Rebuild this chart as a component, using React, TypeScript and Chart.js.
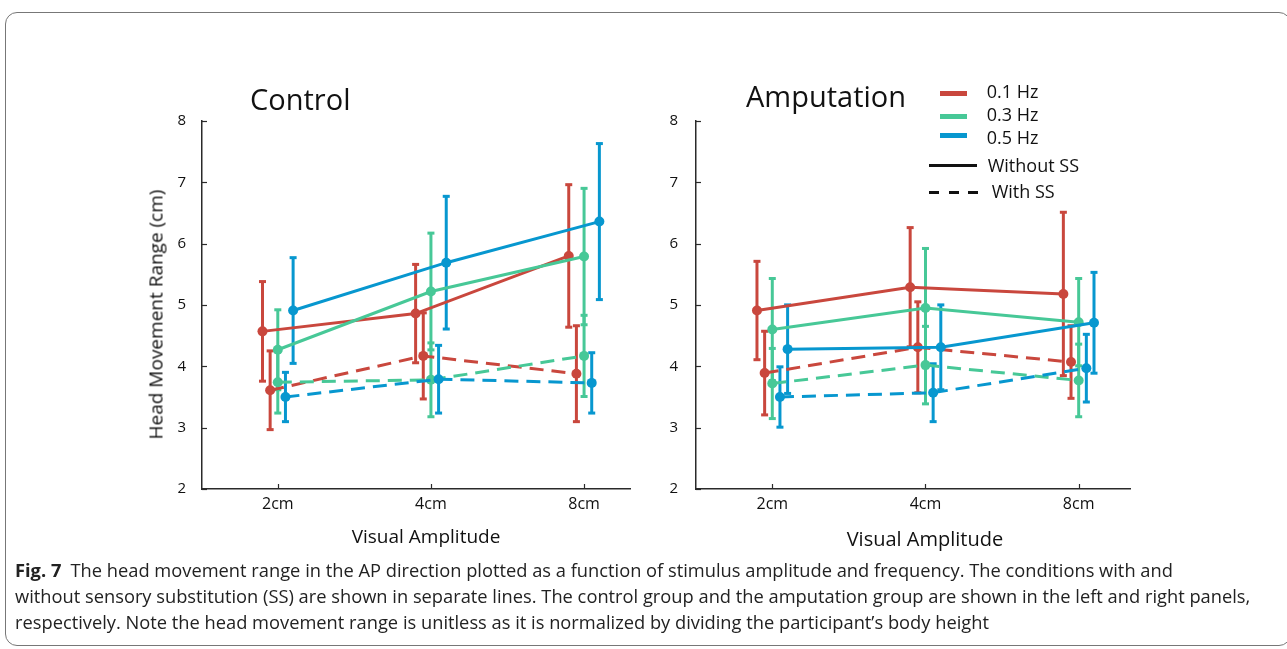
import React, { useEffect, useRef } from "react";
import { Chart, registerables } from "chart.js";

Chart.register(...registerables);

// ---------- data ----------
const CATEGORIES = ["2cm", "4cm", "8cm"];
const Y_TICKS = [2, 3, 4, 5, 6, 7, 8];
const FREQ_LABELS = ["0.1 Hz", "0.3 Hz", "0.5 Hz"];
const CONDITION_LABELS = ["Without SS", "With SS"];

// Control group: means and symmetric error half-widths
const control_01Hz_withoutSS = [4.57, 4.86, 5.8];
const control_01Hz_withoutSS_err = [0.82, 0.81, 1.17];
const control_01Hz_withSS = [3.61, 4.17, 3.88];
const control_01Hz_withSS_err = [0.65, 0.71, 0.79];
const control_03Hz_withoutSS = [4.27, 5.22, 5.79];
const control_03Hz_withoutSS_err = [0.66, 0.96, 1.12];
const control_03Hz_withSS = [3.74, 3.78, 4.17];
const control_03Hz_withSS_err = [0.51, 0.61, 0.67];
const control_05Hz_withoutSS = [4.91, 5.69, 6.36];
const control_05Hz_withoutSS_err = [0.87, 1.09, 1.28];
const control_05Hz_withSS = [3.5, 3.79, 3.73];
const control_05Hz_withSS_err = [0.41, 0.56, 0.5];

// Amputation group
const amp_01Hz_withoutSS = [4.91, 5.29, 5.18];
const amp_01Hz_withoutSS_err = [0.81, 0.98, 1.34];
const amp_01Hz_withSS = [3.89, 4.31, 4.07];
const amp_01Hz_withSS_err = [0.69, 0.75, 0.6];
const amp_03Hz_withoutSS = [4.6, 4.95, 4.72];
const amp_03Hz_withoutSS_err = [0.84, 0.98, 0.72];
const amp_03Hz_withSS = [3.72, 4.02, 3.77];
const amp_03Hz_withSS_err = [0.58, 0.64, 0.6];
const amp_05Hz_withoutSS = [4.28, 4.31, 4.71];
const amp_05Hz_withoutSS_err = [0.73, 0.7, 0.83];
const amp_05Hz_withSS = [3.5, 3.57, 3.97];
const amp_05Hz_withSS_err = [0.5, 0.48, 0.56];

const CAPTION_BOLD = "Fig. 7";
const CAPTION_LINES = [
  "The head movement range in the AP direction plotted as a function of stimulus amplitude and frequency. The conditions with and",
  "without sensory substitution (SS) are shown in separate lines. The control group and the amputation group are shown in the left and right panels,",
  "respectively. Note the head movement range is unitless as it is normalized by dividing the participant\u2019s body height",
];

// ---------- styles ----------
const COLORS = ["#c9473d", "#47c897", "#0797cf"];
const DODGE_WITHOUT = [-0.1, 0, 0.1];
const DODGE_WITH = [-0.05, 0, 0.05];
const FONT = "'Open Sans', 'Noto Sans', sans-serif";
const AXIS_COLOR = "#2a2a2a";

type SeriesDef = {
  label: string;
  values: number[];
  errors: number[];
  color: string;
  dashed: boolean;
  dodge: number;
};

function buildSeries(
  without: number[][],
  withoutErr: number[][],
  withSS: number[][],
  withErr: number[][]
): SeriesDef[] {
  const out: SeriesDef[] = [];
  // blue first so it is drawn on top
  for (let f = 2; f >= 0; f--) {
    out.push({
      label: FREQ_LABELS[f] + " " + CONDITION_LABELS[0],
      values: without[f],
      errors: withoutErr[f],
      color: COLORS[f],
      dashed: false,
      dodge: DODGE_WITHOUT[f],
    });
    out.push({
      label: FREQ_LABELS[f] + " " + CONDITION_LABELS[1],
      values: withSS[f],
      errors: withErr[f],
      color: COLORS[f],
      dashed: true,
      dodge: DODGE_WITH[f],
    });
  }
  return out;
}

const controlSeries = buildSeries(
  [control_01Hz_withoutSS, control_03Hz_withoutSS, control_05Hz_withoutSS],
  [control_01Hz_withoutSS_err, control_03Hz_withoutSS_err, control_05Hz_withoutSS_err],
  [control_01Hz_withSS, control_03Hz_withSS, control_05Hz_withSS],
  [control_01Hz_withSS_err, control_03Hz_withSS_err, control_05Hz_withSS_err]
);
const ampSeries = buildSeries(
  [amp_01Hz_withoutSS, amp_03Hz_withoutSS, amp_05Hz_withoutSS],
  [amp_01Hz_withoutSS_err, amp_03Hz_withoutSS_err, amp_05Hz_withoutSS_err],
  [amp_01Hz_withSS, amp_03Hz_withSS, amp_05Hz_withSS],
  [amp_01Hz_withSS_err, amp_03Hz_withSS_err, amp_05Hz_withSS_err]
);

// ---------- plugins ----------
const errorBarPlugin = {
  id: "errorBars",
  beforeDatasetsDraw(chart: any) {
    const ctx = chart.ctx;
    const yScale = chart.scales.y;
    chart.data.datasets.forEach((ds: any, di: number) => {
      const meta = chart.getDatasetMeta(di);
      meta.data.forEach((pt: any, j: number) => {
        const v = ds.data[j].y;
        const e = ds.errors[j];
        const top = yScale.getPixelForValue(v + e);
        const bot = yScale.getPixelForValue(v - e);
        ctx.save();
        ctx.strokeStyle = ds.borderColor;
        ctx.fillStyle = ds.borderColor;
        ctx.lineWidth = 3;
        ctx.setLineDash([]);
        ctx.beginPath();
        ctx.moveTo(pt.x, top);
        ctx.lineTo(pt.x, bot);
        ctx.stroke();
        ctx.fillRect(pt.x - 3.5, top - 1, 7, 3);
        ctx.fillRect(pt.x - 3.5, bot - 2, 7, 3);
        ctx.restore();
      });
    });
  },
};

const innerTicksPlugin = {
  id: "innerTicks",
  afterDraw(chart: any) {
    const { ctx, chartArea } = chart;
    const xs = chart.scales.x;
    const ys = chart.scales.y;
    ctx.save();
    ctx.strokeStyle = AXIS_COLOR;
    ctx.lineWidth = 1.2;
    ys.ticks.forEach((t: any) => {
      const py = Math.round(ys.getPixelForValue(t.value)) + 0.5;
      ctx.beginPath();
      ctx.moveTo(chartArea.left, py);
      ctx.lineTo(chartArea.left + 5, py);
      ctx.stroke();
    });
    xs.ticks.forEach((t: any) => {
      const px = Math.round(xs.getPixelForValue(t.value)) + 0.5;
      ctx.beginPath();
      ctx.moveTo(px, chartArea.bottom);
      ctx.lineTo(px, chartArea.bottom - 5);
      ctx.stroke();
    });
    ctx.restore();
  },
};

function makeConfig(series: SeriesDef[], xMin: number, xMax: number, yWidth: number, yPad: number): any {
  return {
    type: "line",
    data: {
      datasets: series.map((s) => ({
        label: s.label,
        data: s.values.map((v, i) => ({ x: i + s.dodge, y: v })),
        errors: s.errors,
        borderColor: s.color,
        backgroundColor: s.color,
        borderWidth: 3,
        borderDash: s.dashed ? [14, 8] : [],
        pointRadius: 5,
        pointHoverRadius: 5,
        pointBackgroundColor: s.color,
        pointBorderWidth: 0,
        tension: 0,
        fill: false,
      })),
    },
    options: {
      animation: false,
      responsive: false,
      events: [],
      layout: { padding: { top: 61, right: 10, left: 0, bottom: 0 } },
      plugins: { legend: { display: false }, tooltip: { enabled: false } },
      scales: {
        x: {
          type: "linear",
          min: xMin,
          max: xMax,
          afterBuildTicks: (s: any) => {
            s.ticks = CATEGORIES.map((_, i) => ({ value: i }));
          },
          ticks: {
            callback: (v: any) => CATEGORIES[Math.round(v)] ?? "",
            font: { family: FONT, size: 16 },
            color: "#111",
            padding: -2,
            autoSkip: false,
            maxRotation: 0,
          },
          grid: { display: false },
          border: { display: true, color: AXIS_COLOR, width: 1.5 },
          afterFit: (s: any) => {
            s.height = 71;
          },
        },
        y: {
          type: "linear",
          min: 2,
          max: 8,
          afterBuildTicks: (s: any) => {
            s.ticks = Y_TICKS.map((v) => ({ value: v }));
          },
          ticks: {
            font: { family: FONT, size: 15 },
            color: "#111",
            padding: yPad,
          },
          grid: { display: false },
          border: { display: true, color: AXIS_COLOR, width: 1.5 },
          afterFit: (s: any) => {
            s.width = yWidth;
          },
        },
      },
    },
    plugins: [errorBarPlugin, innerTicksPlugin],
  };
}

function Panel(props: {
  left: number;
  top: number;
  width: number;
  height: number;
  series: SeriesDef[];
  xMin: number;
  xMax: number;
  yWidth: number;
  yPad: number;
}) {
  const ref = useRef<HTMLCanvasElement | null>(null);
  useEffect(() => {
    if (!ref.current) return;
    const chart = new Chart(ref.current, makeConfig(props.series, props.xMin, props.xMax, props.yWidth, props.yPad));
    return () => chart.destroy();
  }, []);
  return (
    <canvas
      ref={ref}
      width={props.width}
      height={props.height}
      style={{ position: "absolute", left: props.left, top: props.top, width: props.width, height: props.height }}
    />
  );
}

function Txt(props: { x: number; baseline: number; size: number; children: any; weight?: number; color?: string }) {
  return (
    <div
      style={{
        position: "absolute",
        left: props.x,
        top: props.baseline - 0.888 * props.size,
        fontSize: props.size,
        lineHeight: `${props.size}px`,
        fontFamily: FONT,
        whiteSpace: "nowrap",
        color: props.color ?? "#111",
        fontWeight: props.weight ?? 400,
      }}
    >
      {props.children}
    </div>
  );
}

export default function App() {
  const legendBaselines = [98.3, 120.7, 144];
  const legendBarTops = [91, 114, 132.5];
  return (
    <div
      style={{
        position: "absolute",
        left: 0,
        top: 0,
        width: 1287,
        height: 649,
        overflow: "hidden",
        background: "#fff",
        fontFamily: FONT,
      }}
    >
      <div
        style={{
          position: "absolute",
          left: 5,
          top: 12,
          width: 1284,
          height: 632,
          border: "1px solid #777",
          borderRadius: 12,
        }}
      />
      <Panel left={130} top={60} width={510} height={500} series={controlSeries} xMin={-0.495} xMax={2.3} yWidth={72} yPad={8} />
      <Panel left={640} top={60} width={500} height={500} series={ampSeries} xMin={-0.498} xMax={2.335} yWidth={56} yPad={10} />

      <Txt x={250} baseline={110} size={29}>Control</Txt>
      <Txt x={746} baseline={106.7} size={29}>Amputation</Txt>

      {/* y axis title */}
      <div
        style={{
          position: "absolute",
          left: 156 - 200,
          top: 314 - 9.5,
          width: 400,
          height: 19,
          lineHeight: "19px",
          fontSize: 19,
          fontFamily: FONT,
          textAlign: "center",
          color: "#111",
          whiteSpace: "nowrap",
          transform: "rotate(-90deg)",
          transformOrigin: "50% 50%",
        }}
      >
        Head Movement Range (cm)
      </div>

      <Txt x={351.7} baseline={544.3} size={19}>Visual Amplitude</Txt>
      <Txt x={846.7} baseline={546.7} size={20}>Visual Amplitude</Txt>

      {/* legend */}
      {FREQ_LABELS.map((l, i) => (
        <React.Fragment key={l}>
          <div
            style={{
              position: "absolute",
              left: 940,
              top: legendBarTops[i],
              width: 27,
              height: i === 2 ? 5.5 : 5,
              background: COLORS[i],
            }}
          />
          <Txt x={986.7} baseline={legendBaselines[i]} size={18}>
            {l}
          </Txt>
        </React.Fragment>
      ))}
      <div style={{ position: "absolute", left: 929, top: 163.5, width: 48, height: 3, background: "#111" }} />
      <Txt x={987.7} baseline={171.7} size={18}>
        {CONDITION_LABELS[0]}
      </Txt>
      {[929, 948.5, 967.5].map((x) => (
        <div key={x} style={{ position: "absolute", left: x, top: 190.5, width: 10, height: 3, background: "#111" }} />
      ))}
      <Txt x={991.7} baseline={197.7} size={18}>
        {CONDITION_LABELS[1]}
      </Txt>

      {/* caption */}
      <Txt x={15} baseline={577} size={18.3} color="#222">
        <b style={{ fontWeight: 700 }}>{CAPTION_BOLD}</b>
        {"\u2002"}
        {CAPTION_LINES[0]}
      </Txt>
      <Txt x={15} baseline={603} size={18.3} color="#222">
        {CAPTION_LINES[1]}
      </Txt>
      <Txt x={15} baseline={629.5} size={18.3} color="#222">
        {CAPTION_LINES[2]}
      </Txt>
    </div>
  );
}
